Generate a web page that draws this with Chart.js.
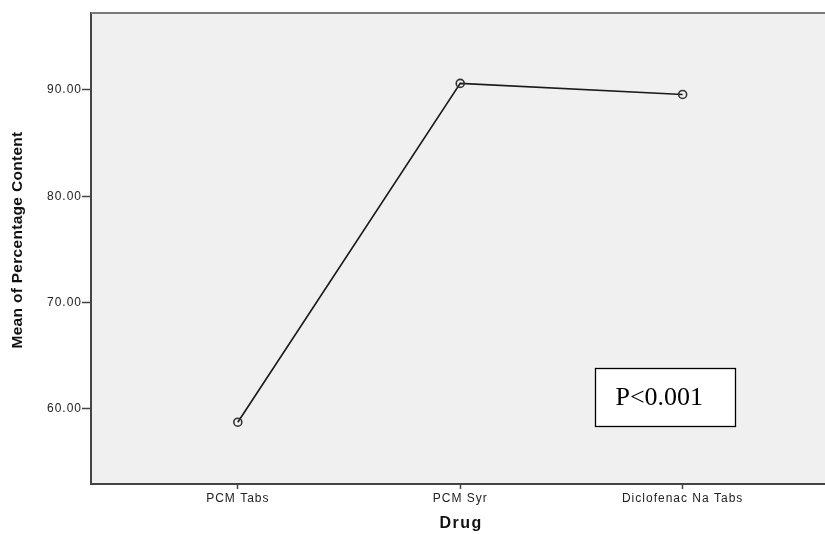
<!DOCTYPE html>
<html>
<head>
<meta charset="utf-8">
<script src="https://cdn.jsdelivr.net/npm/chart.js@4/dist/chart.umd.min.js"></script>
<style>
  html, body { margin: 0; padding: 0; background: #ffffff; }
  #wrap { width: 825px; height: 534px; position: relative; }
</style>
</head>
<body>
<div id="wrap"><canvas id="c" width="825" height="534"></canvas></div>
<script>
// Mean percentage content per drug product
const drugs = ['PCM Tabs', 'PCM Syr', 'Diclofenac Na Tabs'];
const meanContent = [58.75, 90.62, 89.58];
const yTickValues = [60, 70, 80, 90];
const xTitle = 'Drug';
const yTitle = 'Mean of Percentage Content';
const pNote = 'P<0.001';

// Axis ranges (categories sit at 0, 1, 2 on a linear x scale)
const X_MIN = -0.66, X_MAX = 2.64;
const Y_MIN = 52.94, Y_MAX = 97.24;

// Note box corners in data units
const NOTE_X = [1.605, 2.234];
const NOTE_Y = [63.86, 58.4];

const SANS = "'Liberation Sans', Arial, sans-serif";

const plotFrame = {
  id: 'plotFrame',
  beforeDraw(chart) {
    const { ctx, chartArea: a } = chart;
    ctx.save();
    ctx.fillStyle = '#f0f0f0';
    ctx.fillRect(a.left, a.top, a.right - a.left, a.bottom - a.top);
    ctx.restore();
    // wide-set tick lettering
    ctx.letterSpacing = '1px';
  },
  afterDatasetsDraw(chart) {
    const { ctx, chartArea: a } = chart;
    ctx.save();
    ctx.strokeStyle = '#7a7a7a';
    ctx.lineWidth = 2;
    ctx.beginPath();
    ctx.moveTo(a.left, a.top);
    ctx.lineTo(a.right, a.top);
    ctx.stroke();
    ctx.restore();
  }
};

// Axis titles, drawn with their own letter spacing
const axisTitles = {
  id: 'axisTitles',
  afterDraw(chart) {
    const { ctx } = chart;
    const xs = chart.scales.x;
    ctx.save();
    ctx.fillStyle = '#111111';
    ctx.textAlign = 'center';
    ctx.textBaseline = 'middle';
    ctx.letterSpacing = '1.5px';
    ctx.font = 'bold 16px ' + SANS;
    ctx.fillText(xTitle, xs.getPixelForValue(1) + 1, 524);
    ctx.restore();

    ctx.save();
    ctx.fillStyle = '#111111';
    ctx.textAlign = 'center';
    ctx.textBaseline = 'middle';
    ctx.letterSpacing = '0.3px';
    ctx.font = 'bold 15.5px ' + SANS;
    ctx.translate(18, 240);
    ctx.rotate(-Math.PI / 2);
    ctx.fillText(yTitle, 0, 0);
    ctx.restore();
  }
};

const noteBox = {
  id: 'noteBox',
  afterDraw(chart) {
    const { ctx } = chart;
    const xs = chart.scales.x, ys = chart.scales.y;
    const l = Math.round(xs.getPixelForValue(NOTE_X[0])) + 0.5;
    const r = Math.round(xs.getPixelForValue(NOTE_X[1])) + 0.5;
    const t = Math.round(ys.getPixelForValue(NOTE_Y[0])) + 0.5;
    const b = Math.round(ys.getPixelForValue(NOTE_Y[1])) + 0.5;
    ctx.save();
    ctx.letterSpacing = '0px';
    ctx.fillStyle = '#ffffff';
    ctx.fillRect(l, t, r - l, b - t);
    ctx.strokeStyle = '#000000';
    ctx.lineWidth = 1.3;
    ctx.strokeRect(l, t, r - l, b - t);
    ctx.fillStyle = '#000000';
    ctx.font = "26px 'Liberation Serif', 'Times New Roman', serif";
    ctx.textAlign = 'left';
    ctx.textBaseline = 'alphabetic';
    ctx.fillText(pNote, l + 20, b - 22);
    ctx.restore();
  }
};

new Chart(document.getElementById('c'), {
  type: 'line',
  data: {
    datasets: [{
      data: drugs.map((d, i) => ({ x: i, y: meanContent[i] })),
      borderColor: '#1a1a1a',
      borderWidth: 1.6,
      tension: 0,
      fill: false,
      pointStyle: 'circle',
      pointRadius: 4,
      pointHoverRadius: 4,
      pointBackgroundColor: 'rgba(0,0,0,0)',
      pointBorderColor: '#333333',
      pointBorderWidth: 1.6
    }]
  },
  options: {
    responsive: false,
    animation: false,
    devicePixelRatio: 1,
    layout: { autoPadding: false, padding: { top: 13, left: 0, right: 0, bottom: 0 } },
    plugins: { legend: { display: false }, tooltip: { enabled: false } },
    scales: {
      x: {
        type: 'linear',
        min: X_MIN,
        max: X_MAX,
        afterBuildTicks(scale) { scale.ticks = drugs.map((d, i) => ({ value: i })); },
        afterFit(scale) { scale.height = 50; },
        ticks: {
          callback: (v) => drugs[v],
          color: '#222222',
          font: { family: SANS, size: 12 },
          padding: 2,
          maxRotation: 0,
          autoSkip: false
        },
        grid: { drawOnChartArea: false, drawTicks: true, tickLength: 5, tickColor: '#444444', tickWidth: 1.5 },
        border: { display: true, color: '#444444', width: 2 },
        title: { display: false }
      },
      y: {
        min: Y_MIN,
        max: Y_MAX,
        afterBuildTicks(scale) { scale.ticks = yTickValues.map(v => ({ value: v })); },
        afterFit(scale) { scale.width = 91; },
        ticks: {
          callback: (v) => Number(v).toFixed(2),
          color: '#222222',
          font: { family: SANS, size: 12 },
          padding: 0
        },
        grid: { drawOnChartArea: false, drawTicks: true, tickLength: 9, tickColor: '#444444', tickWidth: 1.5 },
        border: { display: true, color: '#444444', width: 2 },
        title: { display: false }
      }
    }
  },
  plugins: [plotFrame, axisTitles, noteBox]
});
</script>
</body>
</html>
